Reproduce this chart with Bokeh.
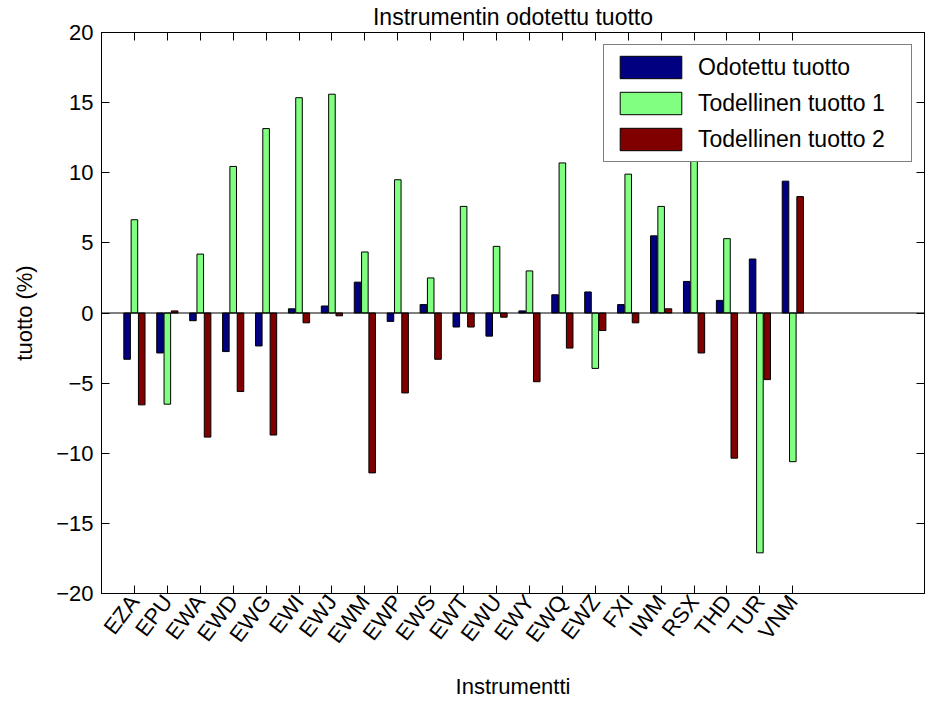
from bokeh.plotting import figure
from bokeh.models import (ColumnDataSource, LinearAxis, FixedTicker, Span, Legend,
                          LegendItem, Range1d, CustomLabelingPolicy)
from bokeh.transform import dodge
from bokeh.embed import file_html
from bokeh.resources import INLINE

categories = ["EZA", "EPU", "EWA", "EWD", "EWG", "EWI", "EWJ", "EWM", "EWP", "EWS",
              "EWT", "EWU", "EWY", "EWQ", "EWZ", "FXI", "IWM", "RSX", "THD", "TUR", "VNM"]
positions = list(range(1, len(categories) + 1))
odotettu = [-3.3, -2.85, -0.55, -2.75, -2.35, 0.3, 0.5, 2.2, -0.6, 0.6,
            -1.0, -1.65, 0.15, 1.3, 1.5, 0.6, 5.5, 2.25, 0.9, 3.85, 9.4]
todellinen1 = [6.65, -6.5, 4.2, 10.45, 13.15, 15.35, 15.6, 4.35, 9.5, 2.5,
               7.6, 4.75, 3.0, 10.7, -3.95, 9.9, 7.6, 12.0, 5.3, -17.1, -10.6]
todellinen2 = [-6.55, 0.15, -8.85, -5.6, -8.7, -0.7, -0.2, -11.4, -5.7, -3.3,
               -1.0, -0.3, -4.9, -2.5, -1.25, -0.7, 0.3, -2.85, -10.35, -4.75, 8.3]
y_ticks = [-20, -15, -10, -5, 0, 5, 10, 15, 20]
series_names = ["Odotettu tuotto", "Todellinen tuotto 1", "Todellinen tuotto 2"]
series_colors = ["#000080", "#80FF80", "#800000"]

FONT = "Liberation Sans"
FS = "22px"

source = ColumnDataSource(dict(pos=positions, cat=categories,
                               s1=odotettu, s2=todellinen1, s3=todellinen2))

p = figure(frame_width=823, frame_height=561,
           x_range=Range1d(0, 25), y_range=Range1d(-20, 20),
           output_backend="svg", toolbar_location=None, title=None,
           x_axis_location=None, y_axis_location=None,
           min_border_left=101, min_border_top=0, min_border_right=4, min_border_bottom=0,
           background_fill_color="white", border_fill_color="white")
p.xgrid.visible = False
p.ygrid.visible = False
p.outline_line_color = "black"
p.outline_line_width = 1
p.outline_line_alpha = 1

offsets = [-0.222, 0.0, 0.222]
renderers = []
for col, off, color in zip(["s1", "s2", "s3"], offsets, series_colors):
    r = p.vbar(x=dodge("pos", off, range=p.x_range), top=col, width=0.2, source=source,
               fill_color=color, line_color="black", line_width=1)
    renderers.append(r)

p.add_layout(Span(location=0, dimension="width", line_color="black", line_width=1))

def style_axis(ax):
    ax.major_tick_in = 8
    ax.major_tick_out = 0
    ax.minor_tick_in = 0
    ax.minor_tick_out = 0
    ax.axis_line_color = "black"
    ax.major_tick_line_color = "black"
    ax.major_label_text_font = FONT
    ax.major_label_text_font_size = FS
    ax.major_label_text_color = "black"
    ax.axis_label_text_font = FONT
    ax.axis_label_text_font_size = FS
    ax.axis_label_text_font_style = "normal"
    ax.axis_label_text_color = "black"

no_labels = "for (const i of [...indices]) { indices.unset(i) } return indices"

xb = LinearAxis(ticker=FixedTicker(ticks=positions),
                major_label_overrides={pos: c for pos, c in zip(positions, categories)},
                major_label_orientation=0.92, axis_label="Instrumentti")
style_axis(xb)
xb.major_label_standoff = 4
xb.axis_label_standoff = 16
p.add_layout(xb, "below")

yl = LinearAxis(ticker=FixedTicker(ticks=y_ticks), axis_label="tuotto (%)")
style_axis(yl)
yl.major_label_standoff = 8
yl.axis_label_standoff = 16
p.add_layout(yl, "left")

xt = LinearAxis(ticker=FixedTicker(ticks=positions), axis_label="Instrumentin odotettu tuotto",
                major_label_policy=CustomLabelingPolicy(code=no_labels))
style_axis(xt)
xt.axis_label_text_font_size = "23px"
xt.major_label_text_font_size = "0px"
xt.major_label_standoff = 0
xt.axis_label_standoff = 3
p.add_layout(xt, "above")

yr = LinearAxis(ticker=FixedTicker(ticks=y_ticks),
                major_label_policy=CustomLabelingPolicy(code=no_labels))
style_axis(yr)
yr.major_label_text_font_size = "0px"
yr.major_label_standoff = 0
p.add_layout(yr, "right")

legend = Legend(items=[LegendItem(label=n, renderers=[r]) for n, r in zip(series_names, renderers)],
                location="top_right", margin=12, padding=8, spacing=8,
                glyph_width=77, glyph_height=28, label_standoff=9, label_width=205,
                label_text_font=FONT, label_text_font_size="23px", label_text_color="black",
                border_line_color="black", border_line_width=1,
                background_fill_color="white", background_fill_alpha=1)
p.add_layout(legend)

open("out.html", "w").write(file_html(p, INLINE))
